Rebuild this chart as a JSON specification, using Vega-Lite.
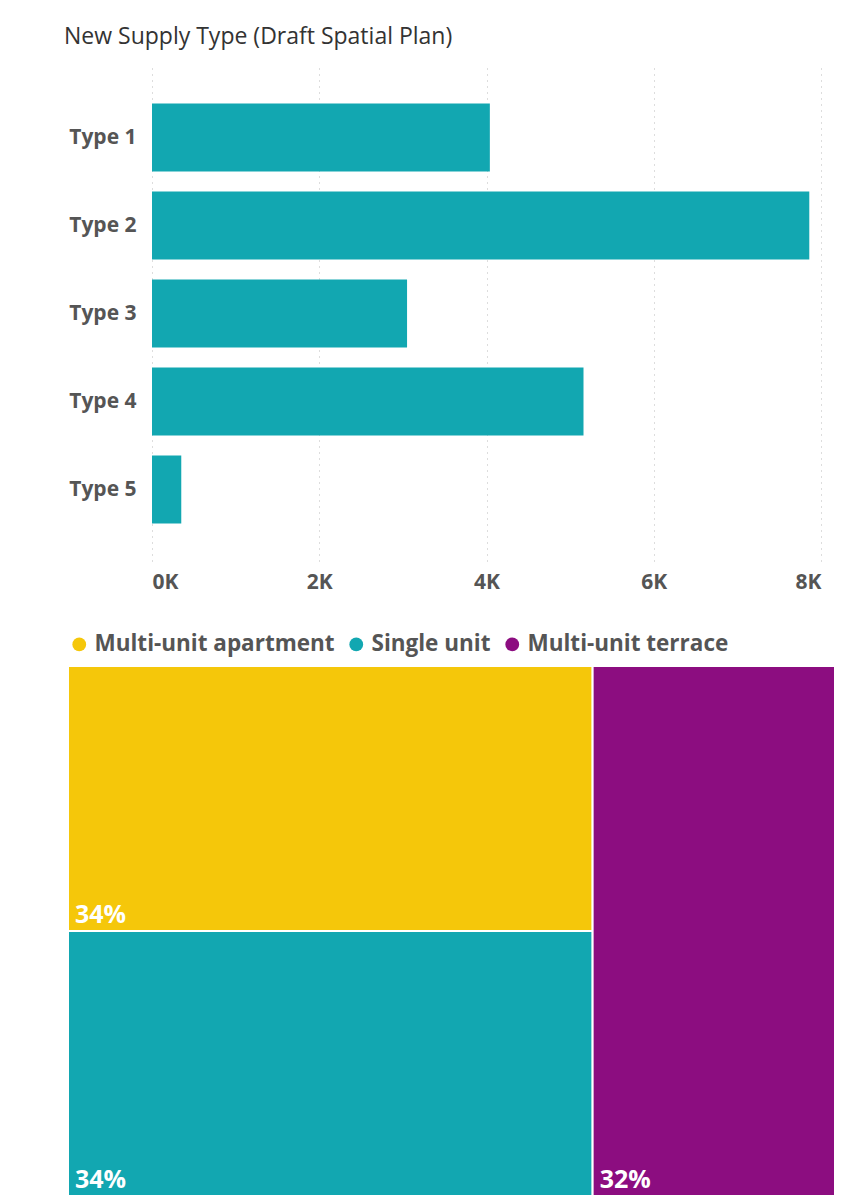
{
  "$schema": "https://vega.github.io/schema/vega-lite/v6.json",
  "padding": {"left": 64, "top": 26, "right": 20, "bottom": 8},
  "background": "white",
  "title": {"text": "New Supply Type (Draft Spatial Plan)", "anchor": "start", "font": "Open Sans", "fontSize": 23, "fontWeight": "normal", "color": "#333333", "dx": -3, "offset": 17},
  "spacing": 41,
  "resolve": {"legend": {"color": "independent"}, "scale": {"color": "independent"}},
  "config": {"view": {"stroke": null}, "font": "Open Sans"},
  "vconcat": [
    {
      "width": 753,
      "height": 495,
      "data": {"values": [
        {"category": "Type 1", "value": 4040},
        {"category": "Type 2", "value": 7860},
        {"category": "Type 3", "value": 3050},
        {"category": "Type 4", "value": 5160},
        {"category": "Type 5", "value": 350}
      ]},
      "mark": {"type": "bar", "color": "#12A7B1"},
      "encoding": {
        "y": {"field": "category", "type": "nominal", "sort": null, "title": null,
          "scale": {"paddingInner": 0.227, "paddingOuter": 0.426},
          "axis": {"offset": -84, "domain": false, "ticks": false, "labelFont": "Open Sans", "labelFontSize": 21, "labelFontWeight": "bold", "labelColor": "#555555", "labelPadding": 16}},
        "x": {"field": "value", "type": "quantitative", "title": null,
          "scale": {"domain": [0, 8000], "nice": false, "range": [84, 753]},
          "axis": {"values": [0, 2000, 4000, 6000, 8000], "labelExpr": "(datum.value/1000) + 'K'", "domain": false, "ticks": false, "grid": true, "gridDash": [1, 5], "gridColor": "#bbbbbb", "labelFont": "Open Sans", "labelFontSize": 21, "labelFontWeight": "bold", "labelColor": "#555555", "labelPadding": 10}}
      }
    },
    {
      "width": 767,
      "height": 530,
      "data": {"values": [
        {"type": "Multi-unit apartment", "share": 0.342, "group": "A", "order": 1},
        {"type": "Single unit", "share": 0.342, "group": "A", "order": 2},
        {"type": "Multi-unit terrace", "share": 0.316, "group": "B", "order": 3}
      ]},
      "transform": [
        {"joinaggregate": [{"op": "sum", "field": "share", "as": "groupTotal"}], "groupby": ["group"]},
        {"stack": "share", "groupby": ["group"], "sort": [{"field": "order"}], "offset": "normalize", "as": ["ys0", "ys1"]},
        {"window": [{"op": "sum", "field": "share", "as": "cum"}], "sort": [{"field": "order"}], "frame": [null, 0]},
        {"joinaggregate": [{"op": "max", "field": "cum", "as": "xs1"}], "groupby": ["group"]},
        {"calculate": "datum.xs1 - datum.groupTotal", "as": "xs0"}
      ],
      "layer": [
        {
          "mark": {"type": "rect", "stroke": "white", "strokeWidth": 2},
          "encoding": {
            "x": {"field": "xs0", "type": "quantitative", "scale": {"domain": [0, 1], "nice": false, "zero": false}, "axis": null},
            "x2": {"field": "xs1"},
            "y": {"field": "ys0", "type": "quantitative", "scale": {"domain": [0, 1], "nice": false, "reverse": true}, "axis": null},
            "y2": {"field": "ys1"},
            "color": {"field": "type", "type": "nominal", "title": null,
              "scale": {"domain": ["Multi-unit apartment", "Single unit", "Multi-unit terrace"], "range": ["#F5C70A", "#12A7B1", "#8C0D80"]},
              "legend": {"orient": "top", "direction": "horizontal", "symbolType": "circle", "symbolSize": 190, "symbolStrokeWidth": 0, "labelFont": "Open Sans", "labelFontSize": 22.5, "labelFontWeight": "bold", "labelColor": "#555555", "labelOffset": 4, "labelLimit": 400, "columnPadding": 10, "offset": 10, "padding": 0}}
          }
        },
        {
          "mark": {"type": "text", "align": "left", "baseline": "bottom", "dx": 7, "dy": -3, "color": "white", "font": "Open Sans", "fontSize": 25, "fontWeight": "bold"},
          "encoding": {
            "x": {"field": "xs0", "type": "quantitative"},
            "y": {"field": "ys1", "type": "quantitative"},
            "text": {"field": "share", "type": "quantitative", "format": ".0%"}
          }
        }
      ]
    }
  ]
}
